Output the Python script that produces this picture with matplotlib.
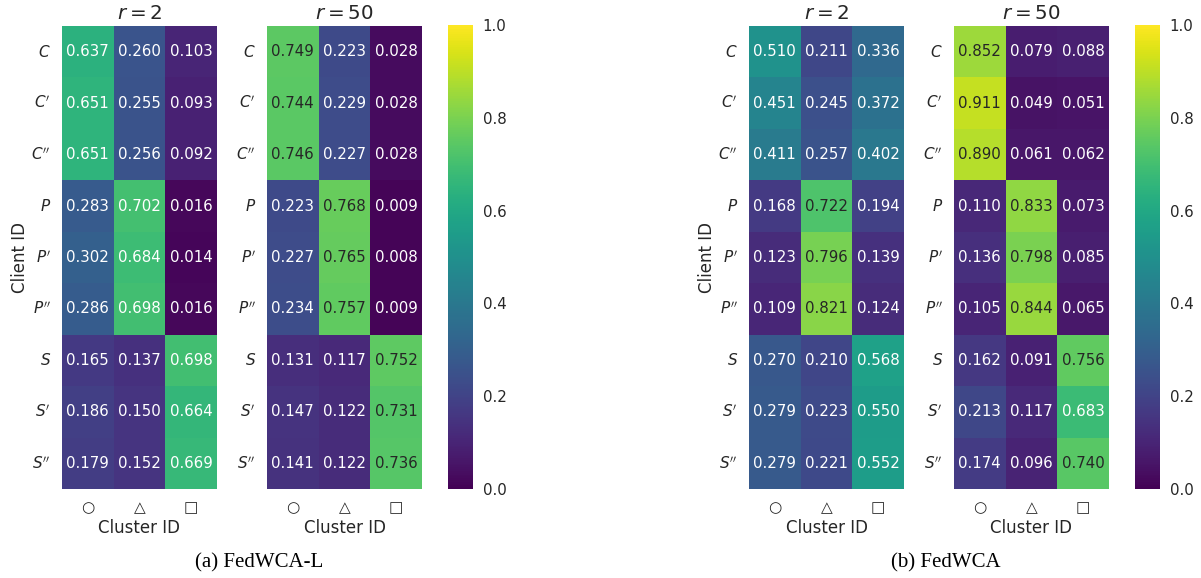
import numpy as np
import matplotlib
matplotlib.use("Agg")
import matplotlib.pyplot as plt
import seaborn as sns

# row / column labels
clients = ["$C$", "$C'$", "$C''$", "$P$", "$P'$", "$P''$", "$S$", "$S'$", "$S''$"]
clusters = ["○", "△", "□"]

# (a) FedWCA-L
fedwca_l_r2 = [[0.637, 0.260, 0.103],
               [0.651, 0.255, 0.093],
               [0.651, 0.256, 0.092],
               [0.283, 0.702, 0.016],
               [0.302, 0.684, 0.014],
               [0.286, 0.698, 0.016],
               [0.165, 0.137, 0.698],
               [0.186, 0.150, 0.664],
               [0.179, 0.152, 0.669]]
fedwca_l_r50 = [[0.749, 0.223, 0.028],
                [0.744, 0.229, 0.028],
                [0.746, 0.227, 0.028],
                [0.223, 0.768, 0.009],
                [0.227, 0.765, 0.008],
                [0.234, 0.757, 0.009],
                [0.131, 0.117, 0.752],
                [0.147, 0.122, 0.731],
                [0.141, 0.122, 0.736]]

# (b) FedWCA
fedwca_r2 = [[0.510, 0.211, 0.336],
             [0.451, 0.245, 0.372],
             [0.411, 0.257, 0.402],
             [0.168, 0.722, 0.194],
             [0.123, 0.796, 0.139],
             [0.109, 0.821, 0.124],
             [0.270, 0.210, 0.568],
             [0.279, 0.223, 0.550],
             [0.279, 0.221, 0.552]]
fedwca_r50 = [[0.852, 0.079, 0.088],
              [0.911, 0.049, 0.051],
              [0.890, 0.061, 0.062],
              [0.110, 0.833, 0.073],
              [0.136, 0.798, 0.085],
              [0.105, 0.844, 0.065],
              [0.162, 0.091, 0.756],
              [0.213, 0.117, 0.683],
              [0.174, 0.096, 0.740]]

sns.set_theme(style="white")
plt.rcParams["font.family"] = ["DejaVu Sans"]
plt.rcParams["mathtext.fontset"] = "dejavusans"

W, H = 1201, 578
fig = plt.figure(figsize=(W / 100, H / 100), dpi=100)


def box(x0, y0, x1, y1):
    # pixel box (top-left origin) -> figure fraction
    return [x0 / W, 1 - y1 / H, (x1 - x0) / W, (y1 - y0) / H]


def draw(data, x0, title, cax=None, ylabel=False):
    ax = fig.add_axes(box(x0, 26, x0 + 155, 489))
    sns.heatmap(np.array(data), ax=ax, cmap="viridis", vmin=0, vmax=1,
                annot=True, fmt=".3f", annot_kws={"size": 10.8},
                cbar=cax is not None, cbar_ax=cax,
                xticklabels=clusters, yticklabels=clients)
    ax.set_title(title, fontsize=14.3, pad=5)
    ax.set_xlabel("Cluster ID", fontsize=12, labelpad=3)
    if ylabel:
        ax.set_ylabel("Client ID", fontsize=12, labelpad=1.5)
    ax.tick_params(length=0, pad=8, labelsize=11)
    ax.set_yticklabels(clients, rotation=0)
    ax.set_xticklabels(clusters, rotation=0)
    if cax is not None:
        cax.tick_params(length=0, pad=7, labelsize=10.8)
    return ax


for x0, r2, r50, cap, cx in [(62, fedwca_l_r2, fedwca_l_r50, "(a) FedWCA-L", 259),
                             (749, fedwca_r2, fedwca_r50, "(b) FedWCA", 946)]:
    draw(r2, x0, "$r = 2$", ylabel=True)
    cax = fig.add_axes(box(x0 + 386, 25, x0 + 411, 489))
    draw(r50, x0 + 205, "$r = 50$", cax=cax)
    fig.text(cx / W, 1 - 563 / H, cap, family="Liberation Serif",
             fontsize=15, ha="center", va="center", color="black")

fig.savefig("out.png", dpi=100)
